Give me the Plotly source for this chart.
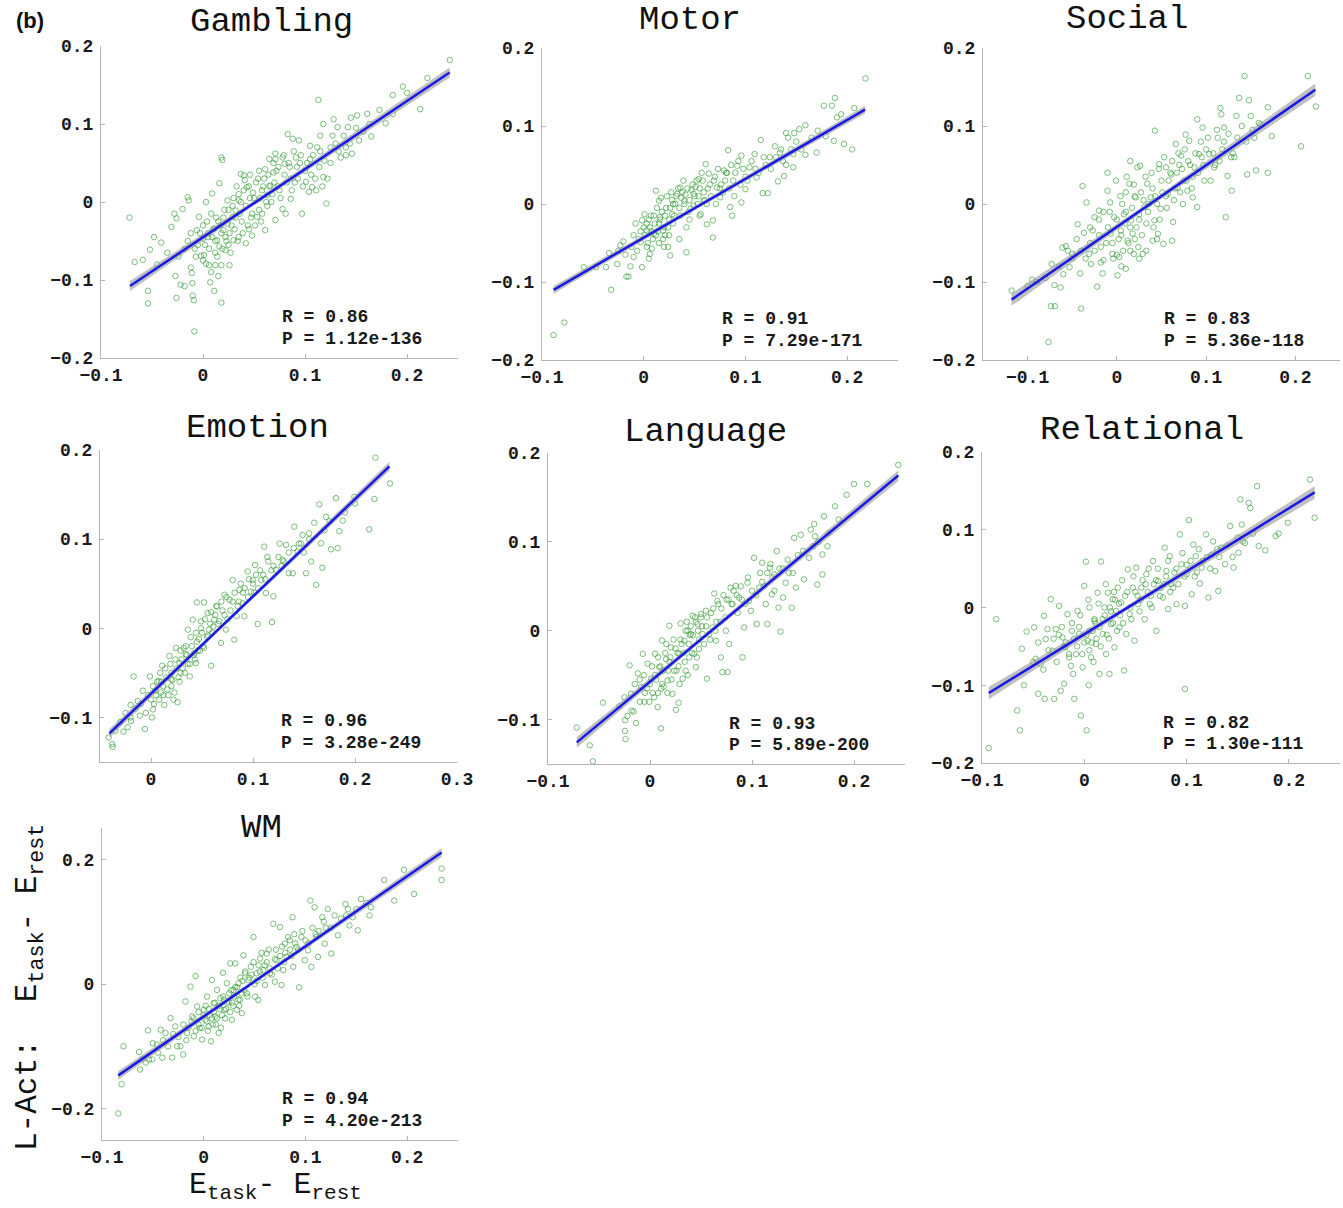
import plotly.graph_objects as go

W, H = 1343, 1208

tasks = ["Gambling", "Motor", "Social", "Emotion", "Language", "Relational", "WM"]
r_values = ["0.86", "0.91", "0.83", "0.96", "0.93", "0.82", "0.94"]
p_values = ["1.12e-136", "7.29e-171", "5.36e-118", "3.28e-249", "5.89e-200", "1.30e-111", "4.20e-213"]

# regression line (three points)
fit_x = {
    "Gambling": [-0.0716, 0.05, 0.2418],
    "Motor": [-0.0886, 0.05, 0.2176],
    "Social": [-0.118, 0.03, 0.2224],
    "Emotion": [-0.0408, 0.07, 0.2337],
    "Language": [-0.0718, 0.05, 0.2434],
    "Relational": [-0.0934, 0.04, 0.2252],
    "WM": [-0.084, 0.05, 0.2339],
}
fit_y = {
    "Gambling": [-0.1077, -0.0015, 0.166],
    "Motor": [-0.110, -0.0054, 0.121],
    "Social": [-0.1226, -0.0057, 0.1464],
    "Emotion": [-0.118, 0.003, 0.1817],
    "Language": [-0.1257, -0.0097, 0.1746],
    "Relational": [-0.110, -0.002, 0.148],
    "WM": [-0.1464, 0.0041, 0.2106],
}
# confidence band half-width at the same three points
band_hw = {
    "Gambling": [0.0065, 0.003, 0.0065],
    "Motor": [0.005, 0.0025, 0.005],
    "Social": [0.008, 0.003, 0.008],
    "Emotion": [0.005, 0.002, 0.005],
    "Language": [0.006, 0.0025, 0.006],
    "Relational": [0.008, 0.003, 0.008],
    "WM": [0.007, 0.003, 0.007],
}

gambling_pts = [
    (-0.072, -0.020), (-0.067, -0.077), (-0.059, -0.074), (-0.054, -0.114), (-0.054, -0.130),
    (-0.048, -0.045), (-0.052, -0.061), (-0.041, -0.052), (-0.031, -0.032), (-0.028, -0.015),
    (-0.026, -0.021), (-0.027, -0.095), (-0.026, -0.123), (-0.022, -0.106), (-0.018, -0.108),
    (-0.020, -0.009), (-0.015, 0.006), (-0.014, 0.002), (-0.012, -0.084), (-0.011, -0.091),
    (-0.010, -0.120), (-0.009, -0.126), (-0.0085, -0.166), (-0.0105, -0.104), (-0.007, -0.070),
    (-0.002, -0.069), (0.001, -0.068), (0.003, -0.079), (0.006, -0.081), (0.007, -0.103),
    (0.011, -0.114), (0.012, -0.081), (0.018, -0.129), (0.018, -0.081), (0.026, -0.081),
    (0.022, -0.062), (0.018, 0.057), (0.019, 0.054), (0.016, 0.024), (0.009, 0.011),
    (0.003, 0.0), (-0.004, -0.019), (-0.006, -0.036), (0.0, -0.047), (0.005, -0.040),
    (0.011, -0.034), (0.014, -0.049), (0.016, -0.057), (0.020, -0.036), (0.024, -0.028),
    (0.029, -0.019), (0.032, -0.011), (0.037, 0.036), (0.040, 0.034), (0.046, 0.035),
    (0.043, 0.019), (0.035, 0.002), (0.030, -0.049), (0.035, -0.045), (0.042, -0.053),
    (0.048, -0.043), (0.053, -0.019), (0.058, -0.015), (0.061, -0.036), (0.063, 0.009),
    (0.066, 0.021), (0.069, 0.038), (0.071, 0.062), (0.071, 0.055), (0.078, 0.057),
    (0.080, 0.049), (0.083, 0.087), (0.088, 0.081), (0.091, 0.057), (0.092, 0.045),
    (0.094, 0.079), (0.086, 0.030), (0.086, 0.004), (0.081, -0.015), (0.078, -0.009),
    (0.071, -0.023), (0.097, -0.015), (0.101, 0.026), (0.104, 0.013), (0.107, 0.019),
    (0.105, 0.072), (0.112, 0.070), (0.113, 0.131), (0.115, 0.085), (0.118, 0.100),
    (0.118, 0.032), (0.121, -0.002), (0.119, 0.053), (0.125, 0.070), (0.128, 0.106),
    (0.132, 0.096), (0.135, 0.057), (0.142, 0.096), (0.145, 0.108), (0.140, 0.070),
    (0.146, 0.062), (0.151, 0.111), (0.153, 0.079), (0.161, 0.113), (0.165, 0.084),
    (0.173, 0.118), (0.179, 0.101), (0.186, 0.137), (0.196, 0.148), (0.200, 0.140),
    (0.213, 0.119), (0.220, 0.159), (0.242, 0.182), (0.186, 0.113),
    (0.005, -0.045), (0.010, -0.035), (0.012, -0.050), (0.015, -0.025), (0.018, -0.040),
    (0.020, -0.020), (0.022, -0.045), (0.025, -0.010), (0.028, -0.030), (0.030, 0.005),
    (0.032, -0.020), (0.035, 0.010), (0.038, -0.025), (0.040, 0.015), (0.042, -0.005),
    (0.045, 0.020), (0.048, -0.015), (0.050, 0.005), (0.052, 0.025), (0.055, -0.010),
    (0.058, 0.015), (0.060, 0.030), (0.062, 0.000), (0.065, 0.020), (0.068, 0.010),
    (0.070, 0.025), (0.072, 0.040), (0.075, 0.015), (0.080, 0.035), (0.085, 0.045),
    (0.090, 0.025), (0.095, 0.050), (0.100, 0.040), (0.105, 0.055), (0.110, 0.030),
    (0.012, -0.065), (0.000, -0.030), (-0.005, -0.055), (-0.015, -0.050), (0.008, -0.015),
    (0.115, 0.065), (0.125, 0.050), (0.130, 0.075), (0.140, 0.060),
]
gambling_core_pts = [
    (0.002, -0.055), (0.004, -0.025), (0.006, -0.060), (0.009, -0.045), (0.013, -0.020),
    (0.014, -0.070), (0.017, -0.030), (0.019, -0.060), (0.021, -0.010), (0.023, -0.050),
    (0.024, 0.002), (0.026, -0.040), (0.027, -0.065), (0.029, -0.005), (0.031, -0.035),
    (0.033, 0.020), (0.034, -0.050), (0.036, -0.015), (0.037, 0.000), (0.039, -0.040),
    (0.041, 0.028), (0.044, -0.030), (0.046, 0.005), (0.047, -0.020), (0.049, 0.012),
    (0.051, -0.030), (0.054, 0.030), (0.056, 0.005), (0.057, -0.025), (0.059, 0.020),
    (0.061, 0.042), (0.063, -0.005), (0.064, 0.035), (0.067, 0.000), (0.069, 0.050),
    (0.073, 0.020), (0.074, 0.045), (0.076, 0.005), (0.079, 0.060), (0.082, 0.025),
    (0.084, 0.050), (0.087, 0.015), (0.089, 0.065), (0.093, 0.030), (0.096, 0.060),
    (0.098, 0.020), (0.102, 0.050), (0.106, 0.035), (0.108, 0.060), (0.111, 0.015),
    (0.114, 0.045), (0.117, 0.020), (0.122, 0.030), (0.127, 0.085), (0.133, 0.065),
    (0.138, 0.085), (0.144, 0.075), (0.150, 0.095), (0.157, 0.090), (0.163, 0.100),
    (-0.003, -0.040), (-0.008, -0.060), (-0.012, -0.040), (-0.018, -0.060), (-0.024, -0.070),
    (-0.035, -0.065), (-0.045, -0.080), (0.000, -0.075), (0.008, -0.090), (0.015, -0.095),
    (0.025, -0.055), (0.045, -0.035), (0.055, 0.040), (0.065, 0.055),
]

motor_pts = [
    (-0.0886, -0.168), (-0.078, -0.152), (-0.059, -0.081), (-0.047, -0.081), (-0.037, -0.081),
    (-0.034, -0.063), (-0.032, -0.110), (-0.026, -0.077), (-0.023, -0.053), (-0.020, -0.048),
    (-0.017, -0.093), (-0.015, -0.093), (-0.013, -0.080), (-0.010, -0.068), (-0.0065, -0.060),
    (-0.003, -0.049), (-0.0016, -0.081), (-0.0016, -0.021), (0.0007, -0.013), (0.003, -0.034),
    (0.006, -0.064), (0.008, -0.057), (0.010, -0.038), (0.012, 0.017), (0.015, 0.004),
    (0.016, -0.017), (0.019, -0.034), (0.021, -0.040), (0.024, -0.055), (0.026, -0.066),
    (0.028, -0.013), (0.029, 0.000), (0.033, 0.013), (0.036, 0.021), (0.039, 0.030),
    (0.040, 0.004), (0.042, -0.062), (0.042, -0.030), (0.046, -0.006), (0.049, 0.013),
    (0.052, 0.030), (0.054, 0.032), (0.056, -0.013), (0.059, 0.004), (0.061, 0.051),
    (0.062, -0.026), (0.064, 0.039), (0.068, -0.043), (0.068, -0.021), (0.072, 0.021),
    (0.075, 0.0085), (0.079, 0.043), (0.082, 0.040), (0.083, 0.069), (0.085, -0.004),
    (0.087, -0.015), (0.088, 0.030), (0.092, 0.049), (0.096, 0.002), (0.096, 0.062),
    (0.100, 0.019), (0.104, 0.047), (0.109, 0.064), (0.111, 0.034), (0.115, 0.082),
    (0.117, 0.014), (0.122, 0.014), (0.124, 0.060), (0.129, 0.074), (0.132, 0.029),
    (0.137, 0.055), (0.138, 0.036), (0.140, 0.091), (0.142, 0.085), (0.147, 0.047),
    (0.148, 0.091), (0.153, 0.096), (0.159, 0.101), (0.159, 0.063), (0.170, 0.066),
    (0.171, 0.094), (0.179, 0.087), (0.177, 0.126), (0.185, 0.126), (0.188, 0.136),
    (0.187, 0.081), (0.190, 0.111), (0.194, 0.115), (0.197, 0.077), (0.205, 0.070),
    (0.207, 0.123), (0.218, 0.161), (0.147, 0.064), (0.134, 0.066),
    (0.000, -0.030), (0.005, -0.020), (0.008, -0.035), (0.010, -0.015), (0.012, -0.040),
    (0.015, -0.025), (0.018, -0.010), (0.020, -0.030), (0.022, -0.005), (0.025, -0.020),
    (0.028, 0.005), (0.030, -0.015), (0.032, 0.010), (0.035, -0.005), (0.038, 0.015),
    (0.040, 0.000), (0.043, 0.020), (0.045, 0.005), (0.048, 0.025), (0.050, 0.010),
    (0.053, 0.000), (0.055, 0.020), (0.058, 0.030), (0.060, 0.005), (0.065, 0.025),
    (0.070, 0.035), (0.075, 0.020), (0.080, 0.030), (0.090, 0.040), (0.095, 0.025),
    (0.100, 0.035), (0.110, 0.045), (-0.005, -0.045), (-0.010, -0.040), (0.003, -0.055),
    (0.015, -0.050), (0.025, -0.040), (0.120, 0.050), (0.130, 0.060), (0.140, 0.050),
    (0.145, 0.070),
]
motor_core_pts = [
    (0.001, -0.040), (0.003, -0.025), (0.004, -0.050), (0.006, -0.030), (0.007, -0.015),
    (0.009, -0.045), (0.011, -0.025), (0.013, -0.005), (0.014, -0.035), (0.016, -0.020),
    (0.017, 0.008), (0.019, -0.045), (0.021, -0.015), (0.023, 0.010), (0.024, -0.030),
    (0.026, -0.005), (0.027, 0.015), (0.029, -0.025), (0.031, 0.000), (0.034, 0.020),
    (0.036, -0.015), (0.037, 0.008), (0.041, 0.012), (0.044, -0.010), (0.047, 0.018),
    (0.049, -0.002), (0.051, 0.022), (0.054, 0.010), (0.057, 0.040), (0.059, 0.015),
    (0.062, 0.000), (0.063, 0.020), (0.066, 0.010), (0.069, 0.030), (0.071, 0.000),
    (0.073, 0.045), (0.076, 0.025), (0.078, 0.015), (0.081, 0.040), (0.084, 0.020),
    (0.086, 0.050), (0.089, 0.010), (0.093, 0.055), (0.098, 0.045), (0.102, 0.030),
    (0.106, 0.055), (0.113, 0.040), (0.118, 0.060), (0.125, 0.045), (0.135, 0.070),
    (0.150, 0.080), (0.155, 0.070), (0.165, 0.085), (-0.003, -0.035), (-0.008, -0.025),
    (-0.012, -0.055), (-0.018, -0.065), (-0.025, -0.060), (0.005, -0.070), (0.020, -0.055),
    (0.035, -0.045), (0.045, -0.020), (0.055, -0.015),
]

social_pts = [
    (-0.118, -0.111), (-0.095, -0.097), (-0.0766, -0.177), (-0.074, -0.131), (-0.0695, -0.131),
    (-0.073, -0.077), (-0.070, -0.104), (-0.063, -0.107), (-0.061, -0.056), (-0.057, -0.054),
    (-0.053, -0.081), (-0.050, -0.064), (-0.044, -0.026), (-0.041, -0.089), (-0.040, -0.134),
    (-0.0385, 0.023), (-0.037, -0.037), (-0.034, 0.002), (-0.031, -0.064), (-0.029, -0.077),
    (-0.027, -0.034), (-0.025, -0.017), (-0.022, -0.106), (-0.020, -0.0085), (-0.018, -0.055),
    (-0.016, -0.089), (-0.015, -0.072), (-0.0105, 0.040), (-0.0105, 0.017), (-0.0075, 0.002),
    (-0.007, -0.038), (-0.005, -0.064), (-0.003, -0.017), (-0.001, 0.030), (0.0007, -0.0915),
    (0.0026, -0.068), (0.0045, -0.034), (0.006, 0.000), (0.008, -0.013), (0.010, -0.083),
    (0.012, -0.047), (0.014, 0.026), (0.015, 0.055), (0.016, -0.021), (0.0176, -0.038),
    (0.019, -0.064), (0.021, 0.0085), (0.023, 0.047), (0.025, -0.013), (0.026, 0.049),
    (0.029, -0.064), (0.031, -0.004), (0.033, -0.060), (0.034, 0.026), (0.038, 0.0085),
    (0.040, -0.047), (0.0426, 0.094), (0.042, -0.021), (0.046, -0.038), (0.0475, 0.051),
    (0.049, -0.006), (0.052, -0.051), (0.055, 0.047), (0.057, 0.013), (0.061, 0.038),
    (0.062, -0.047), (0.063, -0.023), (0.066, 0.077), (0.068, 0.021), (0.072, 0.062),
    (0.074, 0.000), (0.077, 0.089), (0.079, 0.017), (0.081, 0.081), (0.085, 0.0085),
    (0.087, 0.047), (0.090, 0.1085), (0.090, -0.004), (0.092, 0.064), (0.096, 0.098),
    (0.098, 0.030), (0.1035, 0.064), (0.109, 0.047), (0.113, 0.085), (0.116, 0.123),
    (0.117, 0.115), (0.120, 0.098), (0.122, -0.017), (0.124, 0.036), (0.1286, 0.017),
    (0.1316, 0.060), (0.134, 0.113), (0.137, 0.136), (0.143, 0.164), (0.146, 0.038),
    (0.148, 0.133), (0.154, 0.085), (0.156, 0.043), (0.161, 0.102), (0.169, 0.040),
    (0.169, 0.124), (0.1735, 0.087), (0.2064, 0.074), (0.214, 0.164), (0.223, 0.125),
    (0.150, 0.113), (0.159, 0.104),
    (-0.020, -0.040), (-0.010, -0.030), (-0.005, -0.050), (0.000, -0.020), (0.005, -0.040),
    (0.010, -0.010), (0.015, -0.030), (0.020, -0.045), (0.025, -0.020), (0.030, 0.005),
    (0.035, -0.010), (0.040, 0.020), (0.045, 0.000), (0.050, 0.030), (0.055, 0.010),
    (0.060, 0.040), (0.065, 0.020), (0.070, 0.050), (0.075, 0.030), (0.080, 0.055),
    (0.085, 0.035), (0.095, 0.060), (0.100, 0.070), (0.110, 0.050), (0.120, 0.080),
    (0.130, 0.065), (-0.030, -0.050), (-0.040, -0.060), (-0.050, -0.070), (0.015, -0.060),
    (0.000, -0.065), (0.020, 0.010), (0.010, 0.015), (-0.015, -0.010),
]
social_core_pts = [
    (-0.045, -0.045), (-0.035, -0.070), (-0.030, -0.030), (-0.025, -0.060), (-0.020, -0.020),
    (-0.018, -0.075), (-0.012, -0.050), (-0.008, -0.010), (-0.004, -0.070), (0.002, -0.045),
    (0.004, 0.010), (0.007, -0.060), (0.009, -0.025), (0.011, 0.035), (0.013, -0.050),
    (0.017, -0.005), (0.019, 0.025), (0.022, -0.030), (0.024, -0.055), (0.027, 0.015),
    (0.028, -0.040), (0.032, 0.035), (0.033, -0.025), (0.036, 0.000), (0.039, 0.040),
    (0.041, -0.030), (0.043, 0.010), (0.047, 0.045), (0.048, -0.020), (0.051, 0.015),
    (0.053, 0.060), (0.056, -0.005), (0.058, 0.030), (0.062, 0.055), (0.064, 0.005),
    (0.067, 0.040), (0.069, 0.065), (0.071, 0.015), (0.073, 0.045), (0.076, 0.070),
    (0.078, 0.030), (0.082, 0.050), (0.084, 0.020), (0.088, 0.065), (0.091, 0.040),
    (0.094, 0.080), (0.097, 0.050), (0.102, 0.085), (0.105, 0.030), (0.108, 0.065),
    (0.112, 0.095), (0.115, 0.055), (0.118, 0.070), (0.125, 0.090), (0.128, 0.060),
    (0.135, 0.085), (0.140, 0.100), (0.145, 0.080), (0.152, 0.095), (-0.060, -0.090),
    (-0.055, -0.060), (-0.065, -0.080), (-0.080, -0.095), (-0.090, -0.100), (-0.100, -0.105),
    (0.005, -0.080), (0.025, -0.070), (0.045, -0.045),
]

emotion_pts = [
    (-0.0415, -0.1225), (-0.038, -0.130), (-0.0376, -0.133), (-0.027, -0.116), (-0.023, -0.111),
    (-0.0196, -0.104), (-0.020, -0.086), (-0.017, -0.054), (-0.013, -0.0816), (-0.011, -0.098),
    (-0.006, -0.113), (-0.005, -0.095), (-0.001, -0.054), (0.001, -0.100), (0.002, -0.091),
    (0.004, -0.070), (0.0075, -0.059), (0.0098, -0.072), (0.011, -0.042), (0.013, -0.086),
    (0.016, -0.0685), (0.018, -0.031), (0.0196, -0.057), (0.023, -0.072), (0.0245, -0.022),
    (0.026, -0.083), (0.028, -0.039), (0.029, -0.050), (0.032, -0.022), (0.034, -0.029),
    (0.036, -0.0015), (0.038, -0.054), (0.041, 0.0097), (0.0425, -0.0276), (0.044, -0.039),
    (0.045, 0.029), (0.047, -0.012), (0.049, 0.0078), (0.052, 0.029), (0.052, -0.022),
    (0.0555, 0.017), (0.057, -0.0015), (0.059, -0.042), (0.062, 0.0097), (0.065, 0.0246),
    (0.0686, -0.0164), (0.072, 0.0376), (0.0735, -0.0015), (0.077, 0.032), (0.080, 0.054),
    (0.0817, -0.0127), (0.084, 0.0134), (0.0866, 0.043), (0.090, 0.028), (0.0915, 0.0134),
    (0.0948, 0.0637), (0.098, 0.041), (0.0997, 0.054), (0.102, 0.071), (0.1046, 0.0048),
    (0.108, 0.054), (0.111, 0.0916), (0.1127, 0.0395), (0.114, 0.080), (0.1186, 0.007),
    (0.120, 0.0358), (0.1225, 0.0655), (0.126, 0.095), (0.129, 0.0767), (0.1324, 0.0935),
    (0.135, 0.0618), (0.139, 0.0618), (0.1405, 0.114), (0.1438, 0.086), (0.147, 0.095),
    (0.1487, 0.1047), (0.152, 0.0618), (0.155, 0.1065), (0.157, 0.0749), (0.160, 0.1184),
    (0.162, 0.0488), (0.165, 0.139), (0.1667, 0.0953), (0.168, 0.068), (0.1716, 0.125),
    (0.1765, 0.0886), (0.1814, 0.146), (0.183, 0.0898), (0.1846, 0.109), (0.188, 0.1207),
    (0.214, 0.111), (0.219, 0.145), (0.220, 0.1914), (0.2343, 0.1624), (0.1993, 0.1475),
    (0.010, -0.060), (0.015, -0.055), (0.020, -0.050), (0.020, -0.065), (0.025, -0.045),
    (0.028, -0.060), (0.030, -0.035), (0.033, -0.050), (0.035, -0.030), (0.038, -0.040),
    (0.040, -0.020), (0.043, -0.035), (0.045, -0.015), (0.048, -0.025), (0.050, -0.005),
    (0.055, -0.010), (0.058, 0.005), (0.060, -0.005), (0.063, 0.015), (0.066, 0.005),
    (0.070, 0.020), (0.075, 0.010), (0.080, 0.030), (0.085, 0.025), (0.090, 0.040),
    (0.095, 0.035), (0.100, 0.050), (0.105, 0.045), (0.110, 0.060), (0.120, 0.070),
    (0.130, 0.075), (0.140, 0.090), (0.005, -0.075), (0.000, -0.080), (0.012, -0.075),
    (0.022, -0.080),
]
emotion_core_pts = [
    (-0.035, -0.115), (-0.030, -0.105), (-0.025, -0.095), (-0.020, -0.100), (-0.015, -0.090),
    (-0.010, -0.085), (-0.008, -0.070), (-0.003, -0.075), (0.002, -0.065), (0.003, -0.085),
    (0.006, -0.060), (0.008, -0.080), (0.009, -0.050), (0.012, -0.065), (0.014, -0.045),
    (0.017, -0.075), (0.019, -0.040), (0.021, -0.058), (0.024, -0.035), (0.027, -0.055),
    (0.029, -0.025), (0.031, -0.045), (0.034, -0.020), (0.036, -0.040), (0.039, -0.010),
    (0.042, -0.030), (0.044, -0.005), (0.046, -0.025), (0.049, 0.000), (0.051, -0.020),
    (0.053, 0.010), (0.056, -0.008), (0.059, 0.018), (0.061, 0.002), (0.064, 0.025),
    (0.067, 0.008), (0.069, 0.030), (0.072, 0.015), (0.074, 0.035), (0.078, 0.020),
    (0.082, 0.040), (0.086, 0.030), (0.088, 0.050), (0.092, 0.045), (0.096, 0.055),
    (0.101, 0.040), (0.103, 0.060), (0.107, 0.065), (0.112, 0.055), (0.115, 0.075),
    (0.118, 0.065), (0.125, 0.080), (0.128, 0.070), (0.135, 0.085), (0.145, 0.095),
    (0.150, 0.085), (0.155, 0.100), (0.170, 0.110), (0.175, 0.120), (0.190, 0.130),
    (0.200, 0.140),
]

language_pts = [
    (-0.0718, -0.109), (-0.059, -0.129), (-0.056, -0.147), (-0.046, -0.081), (-0.0245, -0.1007),
    (-0.0245, -0.1127), (-0.024, -0.122), (-0.022, -0.096), (-0.020, -0.039), (-0.0186, -0.071),
    (-0.016, -0.091), (-0.0137, -0.104), (-0.012, -0.048), (-0.0088, -0.0634), (-0.007, -0.026),
    (-0.0055, -0.080), (-0.0023, -0.037), (-0.0007, -0.080), (0.001, -0.054), (0.0026, -0.070),
    (0.005, -0.026), (0.0075, -0.086), (0.009, -0.041), (0.0108, -0.110), (0.0117, -0.011),
    (0.0134, -0.063), (0.0157, -0.032), (0.0173, -0.056), (0.019, 0.0056), (0.0205, -0.0187),
    (0.022, -0.071), (0.0238, -0.045), (0.0254, -0.089), (0.028, -0.081), (0.0287, -0.026),
    (0.030, 0.0082), (0.032, -0.054), (0.0336, -0.0112), (0.035, -0.045), (0.0369, 0.000),
    (0.0385, -0.030), (0.040, -0.0037), (0.0418, 0.0168), (0.0434, -0.026), (0.045, -0.041),
    (0.0467, 0.0075), (0.048, -0.0205), (0.0499, 0.0187), (0.0515, -0.0037), (0.0548, 0.0224),
    (0.0558, -0.054), (0.058, -0.0037), (0.0613, 0.0037), (0.063, 0.0418), (0.0646, -0.0112),
    (0.066, 0.0336), (0.0695, -0.030), (0.071, -0.0466), (0.0744, 0.000), (0.076, -0.0466),
    (0.0777, -0.015), (0.079, 0.0485), (0.081, 0.0299), (0.084, 0.0504), (0.0874, 0.0373),
    (0.0907, -0.030), (0.0923, 0.0037), (0.0956, 0.054), (0.097, 0.0336), (0.0989, 0.0224),
    (0.102, 0.082), (0.1047, 0.0075), (0.107, 0.0485), (0.110, 0.0765), (0.1135, 0.0299),
    (0.115, 0.0075), (0.1175, 0.071), (0.1194, 0.041), (0.1217, 0.0634), (0.1243, 0.0896),
    (0.126, 0.026), (0.128, -0.001), (0.1305, 0.0373), (0.133, 0.054), (0.136, 0.0653),
    (0.139, 0.026), (0.1413, 0.1045), (0.143, 0.0485), (0.1478, 0.108), (0.151, 0.0578),
    (0.156, 0.082), (0.1576, 0.1138), (0.161, 0.120), (0.164, 0.052), (0.169, 0.0634),
    (0.1706, 0.1287), (0.169, 0.0858), (0.174, 0.095), (0.1814, 0.140), (0.1928, 0.153),
    (0.200, 0.165), (0.213, 0.165), (0.2434, 0.1866), (0.1618, 0.1063),
    (0.000, -0.060), (0.005, -0.050), (0.010, -0.040), (0.012, -0.060), (0.015, -0.025),
    (0.018, -0.045), (0.020, -0.030), (0.025, -0.020), (0.028, -0.040), (0.030, -0.010),
    (0.033, -0.025), (0.035, 0.000), (0.038, -0.015), (0.040, 0.005), (0.042, -0.005),
    (0.045, 0.010), (0.048, -0.010), (0.050, 0.015), (0.055, 0.005), (0.060, 0.020),
    (0.065, 0.010), (0.070, 0.025), (0.075, 0.035), (0.080, 0.030), (0.085, 0.040),
    (0.090, 0.035), (0.100, 0.045), (0.110, 0.055), (0.115, 0.065), (0.120, 0.060),
    (0.130, 0.070), (-0.005, -0.070), (-0.010, -0.055), (0.008, -0.070),
]
language_core_pts = [
    (-0.030, -0.085), (-0.025, -0.075), (-0.018, -0.090), (-0.015, -0.060), (-0.010, -0.080),
    (-0.006, -0.050), (-0.003, -0.065), (0.002, -0.040), (0.004, -0.075), (0.006, -0.055),
    (0.008, -0.030), (0.011, -0.065), (0.013, -0.045), (0.016, -0.015), (0.017, -0.070),
    (0.019, -0.035), (0.021, -0.055), (0.023, -0.010), (0.026, -0.045), (0.027, -0.025),
    (0.029, -0.060), (0.031, -0.015), (0.034, -0.035), (0.036, 0.010), (0.037, -0.050),
    (0.039, -0.005), (0.041, -0.025), (0.044, 0.015), (0.046, -0.030), (0.047, 0.000),
    (0.051, 0.005), (0.053, -0.015), (0.056, 0.015), (0.059, -0.010), (0.062, 0.025),
    (0.064, 0.000), (0.067, 0.030), (0.069, 0.010), (0.072, 0.040), (0.074, 0.015),
    (0.077, 0.035), (0.082, 0.045), (0.086, 0.020), (0.089, 0.050), (0.093, 0.030),
    (0.096, 0.060), (0.104, 0.040), (0.108, 0.065), (0.112, 0.050), (0.118, 0.075),
    (0.122, 0.045), (0.127, 0.070), (0.135, 0.080), (0.140, 0.065), (0.145, 0.085),
    (0.150, 0.090), (0.160, 0.095), (0.165, 0.100), (0.175, 0.110), (0.185, 0.125),
]

relational_pts = [
    (-0.0934, -0.181), (-0.086, -0.015), (-0.0656, -0.1325), (-0.063, -0.158), (-0.061, -0.053),
    (-0.059, -0.100), (-0.0564, -0.031), (-0.049, -0.0256), (-0.0475, -0.066), (-0.045, -0.111),
    (-0.0426, -0.0726), (-0.0393, -0.0107), (-0.0387, -0.1175), (-0.0377, -0.0406), (-0.036, -0.0278),
    (-0.0328, 0.0107), (-0.031, -0.0556), (-0.0295, -0.1175), (-0.0279, -0.0278), (-0.0246, 0.0021),
    (-0.023, -0.107), (-0.0213, -0.0385), (-0.0197, -0.098), (-0.0187, -0.0513), (-0.0164, -0.0085),
    (-0.0148, -0.0641), (-0.0121, -0.030), (-0.0108, -0.0855), (-0.0098, -0.1175), (-0.008, -0.060),
    (-0.0066, -0.0043), (-0.005, -0.034), (-0.0033, -0.139), (-0.0016, -0.077), (0.000, 0.0278),
    (0.0016, 0.059), (0.0023, -0.158), (0.0033, -0.0427), (0.0043, -0.100), (0.005, 0.000),
    (0.0066, -0.064), (0.0082, -0.030), (0.0098, -0.017), (0.0115, -0.047), (0.013, 0.019),
    (0.0148, -0.0855), (0.0164, 0.059), (0.018, -0.034), (0.0197, 0.000), (0.0213, -0.060),
    (0.023, 0.019), (0.0246, -0.0855), (0.0262, -0.0214), (0.0279, 0.0107), (0.0295, -0.0513),
    (0.031, -0.0043), (0.0328, 0.0256), (0.0344, -0.0256), (0.036, 0.0064), (0.039, -0.081),
    (0.041, -0.034), (0.0426, 0.049), (0.0443, -0.0085), (0.0475, 0.0256), (0.049, -0.0427),
    (0.0508, 0.0513), (0.0525, 0.0043), (0.0557, 0.0256), (0.059, -0.015), (0.0607, 0.0427),
    (0.064, 0.0043), (0.0672, 0.0598), (0.0705, -0.030), (0.0721, 0.0342), (0.077, 0.0128),
    (0.0787, 0.077), (0.0803, 0.047), (0.082, -0.0021), (0.0836, 0.066), (0.0869, 0.0256),
    (0.0902, 0.0043), (0.0934, 0.094), (0.095, 0.0556), (0.0984, -0.1047), (0.0984, 0.0021),
    (0.100, 0.0427), (0.1023, 0.1124), (0.105, 0.017), (0.1066, 0.081), (0.109, 0.066),
    (0.113, 0.0308), (0.1148, 0.0513), (0.119, 0.094), (0.1213, 0.0128), (0.1246, 0.068),
    (0.128, 0.047), (0.131, 0.0214), (0.134, 0.077), (0.1377, 0.0556), (0.1426, 0.1047),
    (0.1459, 0.0513), (0.1508, 0.0705), (0.1525, 0.139), (0.154, 0.1068), (0.157, 0.083),
    (0.1607, 0.1346), (0.1623, 0.128), (0.1689, 0.156), (0.1705, 0.079), (0.177, 0.0735),
    (0.187, 0.092), (0.190, 0.095), (0.199, 0.109), (0.2207, 0.1645), (0.2252, 0.1154),
    (-0.010, -0.040), (-0.005, -0.025), (0.000, -0.045), (0.005, -0.030), (0.010, -0.015),
    (0.012, -0.040), (0.015, -0.025), (0.020, -0.010), (0.022, -0.035), (0.025, 0.000),
    (0.028, -0.020), (0.030, 0.010), (0.035, -0.010), (0.040, 0.015), (0.045, 0.000),
    (0.050, 0.020), (0.055, 0.010), (0.060, 0.030), (0.065, 0.015), (0.070, 0.035),
    (0.075, 0.025), (0.080, 0.040), (0.085, 0.030), (0.090, 0.050), (0.100, 0.055),
    (0.110, 0.045), (0.120, 0.065), (0.130, 0.075), (-0.020, -0.050), (-0.025, -0.035),
    (-0.015, -0.060), (0.005, -0.055),
]
relational_core_pts = [
    (-0.050, -0.070), (-0.045, -0.045), (-0.040, -0.080), (-0.035, -0.055), (-0.030, -0.040),
    (-0.027, -0.070), (-0.022, -0.025), (-0.018, -0.045), (-0.013, -0.075), (-0.012, -0.020),
    (-0.007, -0.050), (-0.004, -0.010), (-0.002, -0.060), (0.002, -0.035), (0.004, 0.010),
    (0.007, -0.045), (0.009, -0.070), (0.011, -0.020), (0.014, 0.005), (0.016, -0.050),
    (0.018, -0.015), (0.021, 0.030), (0.024, -0.040), (0.026, -0.005), (0.029, 0.020),
    (0.032, -0.030), (0.034, 0.005), (0.037, 0.035), (0.038, -0.020), (0.042, 0.020),
    (0.046, -0.015), (0.048, 0.040), (0.052, 0.015), (0.054, -0.005), (0.057, 0.035),
    (0.062, 0.020), (0.063, 0.050), (0.066, 0.000), (0.068, 0.030), (0.072, 0.050),
    (0.074, 0.015), (0.078, 0.030), (0.082, 0.060), (0.084, 0.020), (0.088, 0.045),
    (0.092, 0.030), (0.096, 0.070), (0.098, 0.040), (0.104, 0.060), (0.108, 0.040),
    (0.112, 0.075), (0.116, 0.060), (0.123, 0.050), (0.126, 0.085), (0.132, 0.065),
    (0.140, 0.080), (0.145, 0.065), (0.150, 0.090), (0.155, 0.085), (0.165, 0.095),
]

wm_pts = [
    (-0.084, -0.2074), (-0.0808, -0.1607), (-0.0788, -0.0997), (-0.0635, -0.1088), (-0.0625, -0.137),
    (-0.057, -0.126), (-0.0547, -0.0743), (-0.0537, -0.121), (-0.0505, -0.121), (-0.046, -0.097),
    (-0.0423, -0.0732), (-0.0407, -0.118), (-0.0375, -0.0785), (-0.0326, -0.0546), (-0.031, -0.118),
    (-0.028, -0.068), (-0.026, -0.0997), (-0.0228, -0.0997), (-0.0202, -0.113), (-0.018, -0.028),
    (-0.0163, -0.0785), (-0.013, -0.0042), (-0.0114, -0.052), (-0.0098, -0.0838), (-0.008, 0.0127),
    (-0.0065, -0.036), (-0.0039, -0.0706), (-0.0016, -0.089), (0.000, -0.0414), (0.0016, -0.0573),
    (0.0033, -0.0202), (0.0049, -0.068), (0.0072, -0.0918), (0.0081, 0.0064), (0.0098, -0.0308),
    (0.0114, -0.052), (0.013, -0.0095), (0.0147, -0.0785), (0.0163, -0.0228), (0.0189, 0.018),
    (0.0202, -0.0414), (0.0228, 0.0011), (0.0244, -0.028), (0.026, 0.033), (0.0277, -0.0573),
    (0.0293, -0.0095), (0.031, 0.033), (0.0326, -0.0414), (0.0342, 0.0011), (0.0358, -0.0255),
    (0.0375, -0.0467), (0.039, 0.046), (0.0407, 0.017), (0.0423, -0.015), (0.044, 0.0064),
    (0.0463, 0.0276), (0.0489, 0.0753), (0.0505, -0.0202), (0.052, 0.017), (0.0537, -0.0255),
    (0.0554, 0.0408), (0.0586, 0.0223), (0.0603, -0.0016), (0.0619, 0.0488), (0.0651, 0.017),
    (0.0684, 0.0966), (0.070, 0.0037), (0.0717, 0.0382), (0.075, 0.0912), (0.0765, -0.0016),
    (0.0782, 0.0223), (0.0798, 0.0647), (0.0814, 0.0435), (0.0847, 0.070), (0.0873, 0.107),
    (0.088, 0.0276), (0.0912, 0.0594), (0.0938, -0.0053), (0.096, 0.0753), (0.0993, 0.0382),
    (0.1026, 0.054), (0.1049, 0.1337), (0.1059, 0.0276), (0.109, 0.123), (0.1107, 0.0753),
    (0.1124, 0.0435), (0.1166, 0.107), (0.119, 0.0647), (0.1221, 0.120), (0.1254, 0.0488),
    (0.1287, 0.1098), (0.132, 0.078), (0.1394, 0.128), (0.1417, 0.120), (0.1433, 0.0939),
    (0.1466, 0.107), (0.1515, 0.086), (0.1547, 0.1363), (0.163, 0.1098), (0.1645, 0.123),
    (0.1775, 0.1666), (0.1873, 0.1337), (0.197, 0.183), (0.2068, 0.1443), (0.2339, 0.1851),
    (0.2339, 0.1666),
    (0.000, -0.050), (0.003, -0.060), (0.005, -0.040), (0.008, -0.055), (0.010, -0.045),
    (0.012, -0.065), (0.015, -0.035), (0.018, -0.050), (0.020, -0.025), (0.022, -0.040),
    (0.025, -0.015), (0.028, -0.030), (0.030, -0.020), (0.033, -0.005), (0.035, -0.035),
    (0.038, 0.005), (0.040, -0.010), (0.045, 0.010), (0.050, 0.000), (0.055, 0.020),
    (0.060, 0.030), (0.065, 0.025), (0.070, 0.040), (0.075, 0.045), (0.080, 0.050),
    (0.085, 0.055), (0.090, 0.065), (0.100, 0.070), (-0.005, -0.065), (-0.010, -0.055),
    (-0.015, -0.070), (0.110, 0.080), (0.120, 0.090),
]
wm_core_pts = [
    (-0.060, -0.120), (-0.050, -0.095), (-0.045, -0.110), (-0.040, -0.090), (-0.035, -0.100),
    (-0.030, -0.080), (-0.025, -0.085), (-0.020, -0.065), (-0.017, -0.090), (-0.012, -0.060),
    (-0.008, -0.075), (-0.005, -0.045), (-0.002, -0.070), (0.002, -0.035), (0.004, -0.075),
    (0.006, -0.050), (0.009, -0.065), (0.011, -0.030), (0.013, -0.055), (0.016, -0.040),
    (0.017, -0.070), (0.019, -0.020), (0.021, -0.055), (0.023, -0.030), (0.026, -0.045),
    (0.027, -0.010), (0.029, -0.035), (0.031, -0.005), (0.034, -0.025), (0.036, 0.010),
    (0.037, -0.015), (0.041, 0.020), (0.043, -0.020), (0.047, 0.015), (0.049, 0.035),
    (0.052, 0.005), (0.054, 0.030), (0.057, 0.050), (0.058, 0.010), (0.062, 0.035),
    (0.064, 0.055), (0.067, 0.015), (0.071, 0.055), (0.073, 0.025), (0.077, 0.060),
    (0.079, 0.035), (0.083, 0.075), (0.086, 0.045), (0.089, 0.080), (0.093, 0.055),
    (0.097, 0.085), (0.103, 0.065), (0.107, 0.090), (0.113, 0.085), (0.118, 0.100),
    (0.125, 0.090), (0.135, 0.105), (0.140, 0.110), (0.150, 0.120), (0.160, 0.130),
]

points = {
    "Gambling": gambling_pts + gambling_core_pts,
    "Motor": motor_pts + motor_core_pts,
    "Social": social_pts + social_core_pts,
    "Emotion": emotion_pts + emotion_core_pts,
    "Language": language_pts + language_core_pts,
    "Relational": relational_pts + relational_core_pts,
    "WM": wm_pts + wm_core_pts,
}

xtick_vals = {
    "Gambling": [-0.1, 0, 0.1, 0.2], "Motor": [-0.1, 0, 0.1, 0.2], "Social": [-0.1, 0, 0.1, 0.2],
    "Emotion": [0, 0.1, 0.2, 0.3], "Language": [-0.1, 0, 0.1, 0.2], "Relational": [-0.1, 0, 0.1, 0.2],
    "WM": [-0.1, 0, 0.1, 0.2],
}
ytick_vals = {
    "Gambling": [-0.2, -0.1, 0, 0.1, 0.2], "Motor": [-0.2, -0.1, 0, 0.1, 0.2],
    "Social": [-0.2, -0.1, 0, 0.1, 0.2], "Emotion": [-0.1, 0, 0.1, 0.2],
    "Language": [-0.1, 0, 0.1, 0.2], "Relational": [-0.2, -0.1, 0, 0.1, 0.2],
    "WM": [-0.2, 0, 0.2],
}


def tick_text(v):
    if v == 0:
        return "0"
    s = ("%.1f" % abs(v))
    return ("\u2212" + s) if v < 0 else s


# layout: pixel boxes (left, top, right, bottom) and axis ranges
boxes = {
    "Gambling": (101, 46, 458, 358), "Motor": (542, 48, 898, 360), "Social": (983, 48, 1340, 360),
    "Emotion": (100, 450, 457, 762), "Language": (548, 453, 905, 764), "Relational": (982, 452, 1340, 763),
    "WM": (102, 828, 458, 1140),
}
xranges = {
    "Gambling": [-0.1, 0.25], "Motor": [-0.1, 0.25], "Social": [-0.15, 0.25], "Emotion": [-0.05, 0.3],
    "Language": [-0.1, 0.25], "Relational": [-0.1, 0.25], "WM": [-0.1, 0.25],
}
yranges = {
    "Gambling": [-0.2, 0.2], "Motor": [-0.2, 0.2], "Social": [-0.2, 0.2], "Emotion": [-0.15, 0.2],
    "Language": [-0.15, 0.2], "Relational": [-0.2, 0.2], "WM": [-0.25, 0.25],
}
title_pos = {
    "Gambling": (271, 22), "Motor": (690, 20), "Social": (1127, 19), "Emotion": (257, 428),
    "Language": (705, 432), "Relational": (1142, 430), "WM": (261, 828),
}

MONO = "Liberation Mono, Courier New, monospace"
fig = go.Figure()
annotations = []
layout_axes = {}

for i, t in enumerate(tasks, start=1):
    xa = "x" if i == 1 else "x%d" % i
    ya = "y" if i == 1 else "y%d" % i
    pts = points[t]
    fig.add_trace(go.Scatter(
        x=[p[0] for p in pts], y=[p[1] for p in pts], mode="markers", xaxis=xa, yaxis=ya,
        marker=dict(symbol="circle-open", size=5.5, color="rgba(40,150,40,0.6)", line=dict(width=1)),
        showlegend=False, hoverinfo="skip"))
    fx, fy, hw = fit_x[t], fit_y[t], band_hw[t]
    upper = [y + w for y, w in zip(fy, hw)]
    lower = [y - w for y, w in zip(fy, hw)]
    fig.add_trace(go.Scatter(
        x=fx + fx[::-1], y=upper + lower[::-1], mode="lines", fill="toself",
        fillcolor="rgba(150,150,150,0.6)", line=dict(width=0), xaxis=xa, yaxis=ya,
        showlegend=False, hoverinfo="skip"))
    fig.add_trace(go.Scatter(
        x=fx, y=fy, mode="lines", line=dict(color="#1a1ae6", width=2.5), xaxis=xa, yaxis=ya,
        showlegend=False, hoverinfo="skip"))

    L, T, R, B = boxes[t]
    axis_common = dict(showline=True, linecolor="#b4b4b4", linewidth=1, ticks="inside",
                       ticklen=4, tickcolor="#b4b4b4", showgrid=False, zeroline=False,
                       automargin=False,
                       tickfont=dict(family=MONO, size=18, color="#1a1a1a", weight="bold"))
    layout_axes["xaxis" if i == 1 else "xaxis%d" % i] = dict(
        domain=[L / W, R / W], range=xranges[t], anchor=ya, ticklabelstandoff=0,
        tickvals=xtick_vals[t], ticktext=[tick_text(v) for v in xtick_vals[t]], **axis_common)
    layout_axes["yaxis" if i == 1 else "yaxis%d" % i] = dict(
        domain=[1 - B / H, 1 - T / H], range=yranges[t], anchor=xa, ticklabelstandoff=3,
        tickvals=ytick_vals[t], ticktext=[tick_text(v) for v in ytick_vals[t]], **axis_common)

    tx, ty = title_pos[t]
    annotations.append(dict(text=t, x=tx / W, y=1 - ty / H, xref="paper", yref="paper",
                            xanchor="center", yanchor="middle", showarrow=False,
                            font=dict(family=MONO, size=34, color="#111")))
    dom = xa + " domain"
    ydom = ya + " domain"
    annotations.append(dict(text="R = " + r_values[i - 1], x=0.5, y=0.13, xref=dom, yref=ydom,
                            xanchor="left", yanchor="middle", showarrow=False,
                            font=dict(family=MONO, size=18, color="#1a1a1a", weight="bold")))
    annotations.append(dict(text="P = " + p_values[i - 1], x=0.5, y=0.062, xref=dom, yref=ydom,
                            xanchor="left", yanchor="middle", showarrow=False,
                            font=dict(family=MONO, size=18, color="#1a1a1a", weight="bold")))

annotations.append(dict(text="<b>(b)</b>", x=30 / W, y=1 - 21 / H, xref="paper", yref="paper",
                        xanchor="center", yanchor="middle", showarrow=False,
                        font=dict(family="Liberation Sans, Arial", size=22, color="#111")))
annotations.append(dict(text="L-Act:\u00a0\u00a0E<sub>task</sub>-\u00a0E<sub>rest</sub>",
                        x=30 / W, y=1 - 988 / H, xref="paper", yref="paper", textangle=-90,
                        xanchor="center", yanchor="middle", showarrow=False,
                        font=dict(family=MONO, size=31, color="#111")))
annotations.append(dict(text="E<sub>task</sub>-\u00a0E<sub>rest</sub>",
                        x=275 / W, y=1 - 1186 / H, xref="paper", yref="paper",
                        xanchor="center", yanchor="middle", showarrow=False,
                        font=dict(family=MONO, size=30, color="#111")))

fig.update_layout(width=W, height=H, margin=dict(l=0, r=0, t=0, b=0, autoexpand=False),
                  paper_bgcolor="white", plot_bgcolor="white", showlegend=False,
                  annotations=annotations, **layout_axes)

fig.write_html("out.html")
